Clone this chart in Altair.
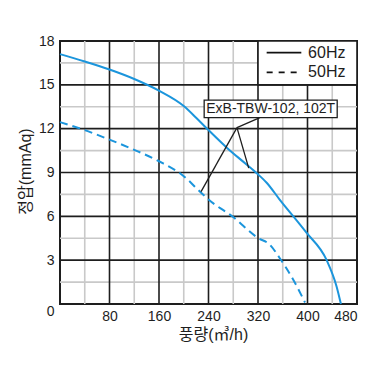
import altair as alt
import pandas as pd

# ---- data ----
flow_60 = [0, 40, 80, 120, 160, 200, 220, 240, 270, 300, 318, 334, 355, 398, 431, 447, 454]
press_60 = [17.1, 16.6, 16.05, 15.4, 14.6, 13.55, 12.75, 11.9, 10.68, 9.6, 8.95, 8.3, 7.15, 4.9, 3.0, 1.2, 0.0]
flow_50 = [0, 40, 80, 120, 160, 200, 226, 240, 280, 320, 339, 355, 377, 396]
press_50 = [12.45, 11.9, 11.25, 10.55, 9.77, 8.75, 7.7, 7.15, 5.95, 4.52, 4.06, 3.15, 1.66, 0.1]

x_major = [80, 160, 240, 320, 400]
x_minor = [40, 120, 200, 280, 360, 440]
y_major = [3, 6, 9, 12, 15]
y_minor = [1.5, 4.5, 7.5, 10.5, 13.5, 16.5]
x_ticks = [80, 160, 240, 320, 400, 480]
y_ticks = [0, 3, 6, 9, 12, 15, 18]

legend_labels = ["60Hz", "50Hz"]
legend_y = [17.2, 15.85]
legend_dash = [[1, 0], [6, 6]]
legend_box = {"x": 320, "x2": 480, "y": 15, "y2": 18}
legend_line_x = [334, 390]
legend_text_x = 401

model_label = "ExB-TBW-102, 102T"
model_box = {"x": 233, "x2": 448, "y": 12.75, "y2": 13.95}
leader_vertex = (286, 12.07)
leader_ends = [(228, 7.69), (305, 9.3), (323, 12.75)]

BLUE = "#1b95dc"
DARK = "#1e1e1e"
MINOR = "#c9c9c9"
NUM_FONT = "Liberation Sans"
TITLE_FONT = "Liberation Sans, Noto Sans CJK KR"

xs = alt.Scale(domain=[0, 480], nice=False, zero=False)
ys = alt.Scale(domain=[0, 18], nice=False, zero=False)

AX_X = alt.Axis(
    values=x_ticks, title="풍량(㎥/h)", grid=False, domain=False, ticks=False,
    labelFont=NUM_FONT, labelFontSize=14, labelColor=DARK, labelPadding=5,
    titleFont=TITLE_FONT, titleFontSize=16, titleFontWeight="normal", titleColor=DARK,
    titlePadding=3, titleX=153)
AX_Y = alt.Axis(
    values=y_ticks, title="정압(mmAq)", grid=False, domain=False, ticks=False,
    labelFont=NUM_FONT, labelFontSize=14, labelColor=DARK, labelPadding=6,
    labelBaseline=alt.condition("datum.value == 0", alt.value("top"), alt.value("middle")),
    titleFont=TITLE_FONT, titleFontSize=16, titleFontWeight="normal", titleColor=DARK,
    titleAngle=-90, titleX=-35, titleY=130, titleAlign="center", titleBaseline="middle")

def X(field="x"):
    return alt.X(f"{field}:Q", scale=xs, axis=AX_X)

def Y(field="y"):
    return alt.Y(f"{field}:Q", scale=ys, axis=AX_Y)

# gridlines
vminor = alt.Chart(pd.DataFrame({"x": x_minor})).mark_rule(color=MINOR, strokeWidth=1.6).encode(x=X())
hminor = alt.Chart(pd.DataFrame({"y": y_minor})).mark_rule(color=MINOR, strokeWidth=1.6).encode(y=Y())
vmajor = alt.Chart(pd.DataFrame({"x": x_major})).mark_rule(color=DARK, strokeWidth=1.6).encode(x=X())
hmajor = alt.Chart(pd.DataFrame({"y": y_major})).mark_rule(color=DARK, strokeWidth=1.6).encode(y=Y())

# curves
d60 = pd.DataFrame({"x": flow_60, "y": press_60})
d50 = pd.DataFrame({"x": flow_50, "y": press_50})
line60 = alt.Chart(d60).mark_line(color=BLUE, strokeWidth=2, interpolate="monotone").encode(x=X(), y=Y(), order="x:Q")
line50 = alt.Chart(d50).mark_line(color=BLUE, strokeWidth=2, strokeDash=[8, 5], interpolate="monotone").encode(x=X(), y=Y(), order="x:Q")

# legend
lb = pd.DataFrame([legend_box])
legend_rect = alt.Chart(lb).mark_rect(fill="white", stroke=DARK, strokeWidth=1.6).encode(
    x=X(), x2="x2", y=Y(), y2="y2")
leg_rows = []
for lab, yy in zip(legend_labels, legend_y):
    leg_rows.append({"x": legend_line_x[0], "x2": legend_line_x[1], "y": yy, "label": lab, "tx": legend_text_x})
ldf = pd.DataFrame(leg_rows)
leg_solid = alt.Chart(ldf.iloc[[0]]).mark_rule(color="#111", strokeWidth=1.8, strokeDash=legend_dash[0]).encode(
    x=X(), x2="x2", y=Y())
leg_dash = alt.Chart(ldf.iloc[[1]]).mark_rule(color="#111", strokeWidth=1.8, strokeDash=legend_dash[1]).encode(
    x=X(), x2="x2", y=Y())
leg_text = alt.Chart(ldf).mark_text(align="left", baseline="middle", font=NUM_FONT, fontSize=16, color=DARK).encode(
    x=X("tx"), y=Y(), text="label:N")

# model annotation
segs = pd.DataFrame([{"x": leader_vertex[0], "y": leader_vertex[1], "x2": ex, "y2": ey} for ex, ey in leader_ends])
leaders = alt.Chart(segs).mark_rule(color=DARK, strokeWidth=1.3).encode(x=X(), y=Y(), x2="x2", y2="y2")
mb = pd.DataFrame([model_box])
model_rect = alt.Chart(mb).mark_rect(fill="white", stroke=DARK, strokeWidth=1.3).encode(
    x=X(), x2="x2", y=Y(), y2="y2")
mt = pd.DataFrame([{"x": (model_box["x"] + model_box["x2"]) / 2, "y": (model_box["y"] + model_box["y2"]) / 2, "t": model_label}])
model_text = alt.Chart(mt).mark_text(align="center", baseline="middle", font=NUM_FONT, fontSize=14, color=DARK).encode(
    x=X(), y=Y(), text="t:N")

chart = alt.layer(
    vminor, hminor, vmajor, hmajor, line60, line50,
    legend_rect, leg_solid, leg_dash, leg_text,
    leaders, model_rect, model_text,
).properties(
    width=297, height=263,
    autosize=alt.AutoSizeParams(type="none"),
    padding={"left": 52, "top": 33, "right": 27, "bottom": 60},
).configure_view(stroke=DARK, strokeWidth=2)

chart.save("out.html", embed_options={"renderer": "svg", "actions": False})
